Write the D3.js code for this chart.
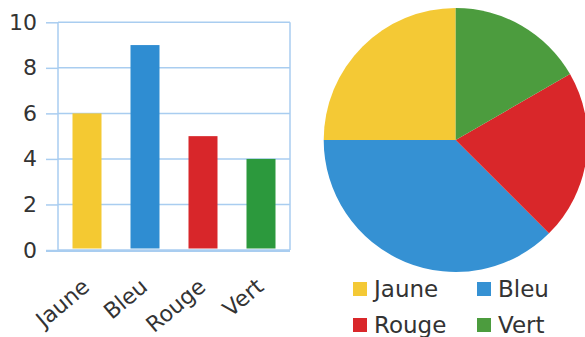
<!DOCTYPE html>
<html><head><meta charset="utf-8">
<script src="https://cdn.jsdelivr.net/npm/d3@7"></script>
<style>body{margin:0;background:#fff}svg{display:block}text{font-family:"DejaVu Sans",sans-serif;fill:#333}</style>
</head><body>
<svg id="c" width="585" height="337"></svg>
<script>
const categories = ["Jaune", "Bleu", "Rouge", "Vert"];
const values = [6, 9, 5, 4];
const barColors = ["#f4c932", "#2f8dd2", "#d8262a", "#2c993d"];
const pieColors = ["#f4c935", "#3591d3", "#d9272a", "#4c9c3e"];
const yTicks = [0, 2, 4, 6, 8, 10];

const svg = d3.select("#c");
const grid = "#a9cdf0";

// Bar chart
const x = d3.scaleBand().domain(categories).range([58, 290]).paddingInner(0.5).paddingOuter(0.25);
const y = d3.scaleLinear().domain([0, 10]).range([250, 22.3]);

const yAxis = svg.append("g").attr("transform", "translate(58,0)")
  .call(d3.axisLeft(y).tickValues(yTicks).tickSize(12).tickPadding(9).tickFormat(d3.format("d")));
yAxis.select(".domain").remove();
yAxis.selectAll("line").attr("stroke", grid).attr("stroke-width", 1.5);
yAxis.selectAll("text").attr("font-size", 22).attr("fill", "#333");

svg.append("g").selectAll("line").data(yTicks).join("line")
  .attr("x1", 58).attr("x2", 290).attr("y1", d => y(d)).attr("y2", d => y(d))
  .attr("stroke", grid).attr("stroke-width", 1.5);
svg.append("line").attr("x1", 58).attr("x2", 58).attr("y1", y(10)).attr("y2", y(0)).attr("stroke", grid).attr("stroke-width", 1.5);
svg.append("line").attr("x1", 290).attr("x2", 290).attr("y1", y(10)).attr("y2", y(0)).attr("stroke", grid).attr("stroke-width", 1.5);

svg.append("g").selectAll("rect").data(values).join("rect")
  .attr("x", (d, i) => x(categories[i]))
  .attr("width", x.bandwidth())
  .attr("y", d => y(d))
  .attr("height", d => y(0) - y(d) - 1.5)
  .attr("fill", (d, i) => barColors[i]);

const xAxis = svg.append("g").attr("transform", "translate(0,250)")
  .call(d3.axisBottom(x).tickSize(0).tickPadding(0));
xAxis.select(".domain").attr("stroke", grid).attr("stroke-width", 2).attr("d", "M46,1H290");
xAxis.selectAll("text")
  .attr("font-size", 22).attr("fill", "#333")
  .attr("text-anchor", "end")
  .attr("y", 0)
  .attr("dy", 0)
  .attr("transform", "translate(4,39) rotate(-40)");

// Pie chart
const cx = 455.7, cy = 140, r = 132;
const pie = d3.pie().sort(null).startAngle(0).endAngle(-2 * Math.PI);
const arc = d3.arc().innerRadius(0).outerRadius(r);
svg.append("g").attr("transform", `translate(${cx},${cy})`)
  .selectAll("path").data(pie(values)).join("path")
  .attr("d", arc).attr("fill", (d, i) => pieColors[i]);

// Legend
const legPos = [[353, 282], [477, 282], [353, 318], [477, 318]];
const leg = svg.append("g").selectAll("g").data(categories).join("g")
  .attr("transform", (d, i) => `translate(${legPos[i][0]},${legPos[i][1]})`);
leg.append("rect").attr("width", 14).attr("height", 14).attr("fill", (d, i) => pieColors[i]);
leg.append("text").attr("x", 21).attr("y", 14.5).attr("font-size", 23).attr("fill", "#333").text(d => d);
</script>
</body></html>
